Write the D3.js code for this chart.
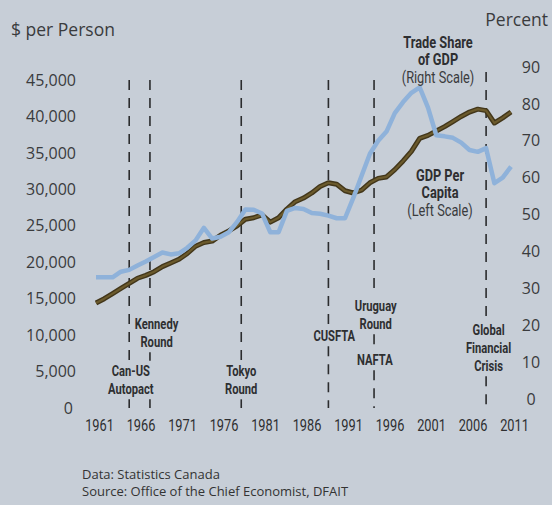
<!DOCTYPE html>
<html>
<head>
<meta charset="utf-8">
<script src="https://cdn.jsdelivr.net/npm/d3@7"></script>
<style>
  body { margin: 0; background: #c7ced7; }
  svg { display: block; }
  .tick-num { font-family: "Open Sans", "Noto Sans", sans-serif; font-size: 16px; fill: #3a3b3d; }
  .title { font-family: "Open Sans", "Noto Sans", sans-serif; font-size: 17.5px; fill: #3a3b3d; }
  .year { font-family: Roboto, "DejaVu Sans Condensed", sans-serif; font-size: 16px; fill: #2e2f31; }
  .note { font-family: Roboto, "DejaVu Sans Condensed", sans-serif; font-weight: bold; font-size: 14px; fill: #2e2f31; }
  .legend-b { font-family: Roboto, "DejaVu Sans Condensed", sans-serif; font-weight: bold; font-size: 16px; fill: #2e2f31; }
  .legend-r { font-family: Roboto, "DejaVu Sans Condensed", sans-serif; font-size: 16px; fill: #3a3b3d; }
  .foot { font-family: "Open Sans", "Noto Sans", sans-serif; font-size: 13px; fill: #333; }
</style>
</head>
<body>
<div id="chart"></div>
<script>
// data
var years = d3.range(1961, 2012);

// GDP per capita, $ per person (left scale)
var gdpPerCapita = [
  14400, 15000, 15700, 16400, 17100, 17800, 18200, 18700, 19400, 19900,
  20400, 21200, 22200, 22700, 22900, 23700, 24300, 25000, 25900, 26100,
  26500, 25500, 26100, 27300, 28300, 28800, 29500, 30400, 30900, 30700,
  29800, 29500, 29900, 30900, 31500, 31700, 32700, 33900, 35200, 37000,
  37400, 38000, 38600, 39300, 40000, 40600, 41000, 40800, 39100, 39800,
  40600
];

// trade share of GDP, percent (right scale)
var tradeShare = [
  33.0, 33.0, 33.0, 34.5, 35.0, 36.2, 37.3, 38.5, 39.7, 39.2,
  39.5, 41.0, 43.0, 46.4, 43.5, 44.0, 45.2, 48.0, 51.4, 51.3,
  50.3, 45.2, 45.2, 51.0, 51.8, 51.5, 50.4, 50.2, 49.7, 49.0,
  49.0, 54.5, 60.5, 66.5, 70.0, 72.5, 77.5, 80.5, 83.0, 84.5,
  79.0, 71.5, 71.2, 70.8, 69.5, 67.5, 67.0, 68.0, 58.5, 60.0,
  63.0
];

var yearTicks = [1961, 1966, 1971, 1976, 1981, 1986, 1991, 1996, 2001, 2006, 2011];
var leftTicks = [0, 5000, 10000, 15000, 20000, 25000, 30000, 35000, 40000, 45000];
var rightTicks = [0, 10, 20, 30, 40, 50, 60, 70, 80, 90];

// trade agreements / events, dashed lines
var eventYears = [1965, 1967.5, 1978.5, 1989, 1994.5, 2008];
var eventLabels = [
  ["Can-US", "Autopact"],
  ["Kennedy", "Round"],
  ["Tokyo", "Round"],
  ["CUSFTA"],
  ["Uruguay", "Round"],
  ["NAFTA"],
  ["Global", "Financial", "Crisis"]
];
var eventLabelYears = [1965.2, 1968.3, 1978.5, 1989.7, 1994.7, 1994.6, 2008.3];

var width = 552, height = 505;
var squeeze = 0.8; // condensed look for the narrow labels

var svg = d3.select("#chart")
  .append("svg")
    .attr("width", width)
    .attr("height", height);

svg.append("rect")
  .attr("width", width)
  .attr("height", height)
  .attr("fill", "#c7ced7");

// scales
var x = d3.scaleLinear()
  .domain([1961, 2011])
  .range([96, 511]);

var yLeft = d3.scaleLinear()
  .domain([0, 45000])
  .range([408, 80]);

var yRight = d3.scaleLinear()
  .domain([0, 90])
  .range([399, 67]);

// axis titles
svg.append("text")
  .attr("class", "title")
  .attr("x", 11)
  .attr("y", 36)
  .text("$ per Person");

svg.append("text")
  .attr("class", "title")
  .attr("x", 548)
  .attr("y", 26)
  .attr("text-anchor", "end")
  .text("Percent");

// left axis
var leftAxis = svg.append("g")
  .attr("transform", "translate(76,0)")
  .call(d3.axisLeft(yLeft).tickValues(leftTicks).tickSize(0).tickPadding(0)
    .tickFormat(function(d) { return d === 0 ? "0" : d3.format(",")(d); }));
leftAxis.select(".domain").remove();
leftAxis.selectAll("text")
  .attr("class", "tick-num")
  .attr("dx", function(d) { return d === 0 ? -3 : 0; })
  .attr("font-family", null).attr("font-size", null);

// right axis
var rightAxis = svg.append("g")
  .attr("transform", "translate(531,0)")
  .call(d3.axisRight(yRight).tickValues(rightTicks).tickSize(0).tickPadding(0));
rightAxis.select(".domain").remove();
rightAxis.selectAll("text")
  .attr("class", "tick-num")
  .attr("text-anchor", "middle")
  .attr("font-family", null).attr("font-size", null);

// x axis (years)
var xAxis = svg.append("g")
  .attr("transform", "translate(0,420)")
  .call(d3.axisBottom(x).tickValues(yearTicks).tickSize(0).tickPadding(0)
    .tickFormat(d3.format("d")));
xAxis.select(".domain").remove();
xAxis.selectAll("text")
  .attr("class", "year")
  .attr("transform", "translate(3,0) scale(" + squeeze + ",1)")
  .attr("font-family", null).attr("font-size", null);

// event labels
var noteG = svg.append("g");
var eventLabelY = [376, 329, 376, 341, 311, 365, 335];

eventLabels.forEach(function(lines, i) {
  var g = noteG.append("g")
    .attr("transform", "translate(" + x(eventLabelYears[i]) + "," + eventLabelY[i] + ") scale(" + squeeze + ",1)");
  lines.forEach(function(t, j) {
    g.append("text")
      .attr("class", "note")
      .attr("text-anchor", "middle")
      .attr("y", j * 18)
      .text(t);
  });
});

// dashed lines, drawn in pieces between the labels
var gaps = noteG.selectAll("g").nodes().map(function(n) {
  var b = n.getBoundingClientRect();
  return { x0: b.left - 3, x1: b.right + 3, y0: b.top - 2, y1: b.bottom + 2 };
});

eventYears.forEach(function(yr, i) {
  var px = x(yr);
  var top = i === 5 ? 72 : 80;
  var cuts = gaps.filter(function(g) { return px >= g.x0 && px <= g.x1; })
    .sort(function(a, b) { return a.y0 - b.y0; });
  var y0 = top;
  var segs = [];
  cuts.forEach(function(c) {
    if (c.y0 > y0) segs.push([y0, c.y0]);
    y0 = Math.max(y0, c.y1);
  });
  segs.push([y0, 408]);
  svg.append("g").selectAll("line")
    .data(segs)
    .enter()
    .append("line")
      .attr("x1", px).attr("x2", px)
      .attr("y1", function(d) { return d[0]; })
      .attr("y2", function(d) { return d[1]; })
      .attr("stroke", "#2b2c2e")
      .attr("stroke-width", 1.6)
      .attr("stroke-dasharray", "10,8");
});
noteG.raise();

// GDP per capita line
var gdpLine = d3.line()
  .x(function(d, i) { return x(years[i]); })
  .y(function(d) { return yLeft(d); });

svg.append("path")
  .datum(gdpPerCapita)
  .attr("d", gdpLine)
  .attr("fill", "none")
  .attr("stroke", "#42361a")
  .attr("stroke-width", 5)
  .attr("stroke-linejoin", "round");

svg.append("path")
  .datum(gdpPerCapita)
  .attr("d", gdpLine)
  .attr("fill", "none")
  .attr("stroke", "#6b5a2c")
  .attr("stroke-width", 2.2)
  .attr("stroke-linejoin", "round");

// trade share line
var tradeLine = d3.line()
  .x(function(d, i) { return x(years[i]); })
  .y(function(d) { return yRight(d); });

svg.append("path")
  .datum(tradeShare)
  .attr("d", tradeLine)
  .attr("fill", "none")
  .attr("stroke", "#8fb2da")
  .attr("stroke-width", 4.5)
  .attr("stroke-linejoin", "round");

// series labels
function seriesLabel(cx, cy, lines) {
  var g = svg.append("g")
    .attr("transform", "translate(" + cx + "," + cy + ") scale(" + squeeze + ",1)");
  lines.forEach(function(t, j) {
    g.append("text")
      .attr("class", j < 2 ? "legend-b" : "legend-r")
      .attr("text-anchor", "middle")
      .attr("y", j * 17.5)
      .text(t);
  });
}
seriesLabel(438, 48, ["Trade Share", "of GDP", "(Right Scale)"]);
seriesLabel(440, 181, ["GDP Per", "Capita", "(Left Scale)"]);

// footer
svg.append("text")
  .attr("class", "foot")
  .attr("x", 82)
  .attr("y", 479)
  .text("Data: Statistics Canada");

svg.append("text")
  .attr("class", "foot")
  .attr("x", 82)
  .attr("y", 496)
  .text("Source: Office of the Chief Economist, DFAIT");
</script>
</body>
</html>
